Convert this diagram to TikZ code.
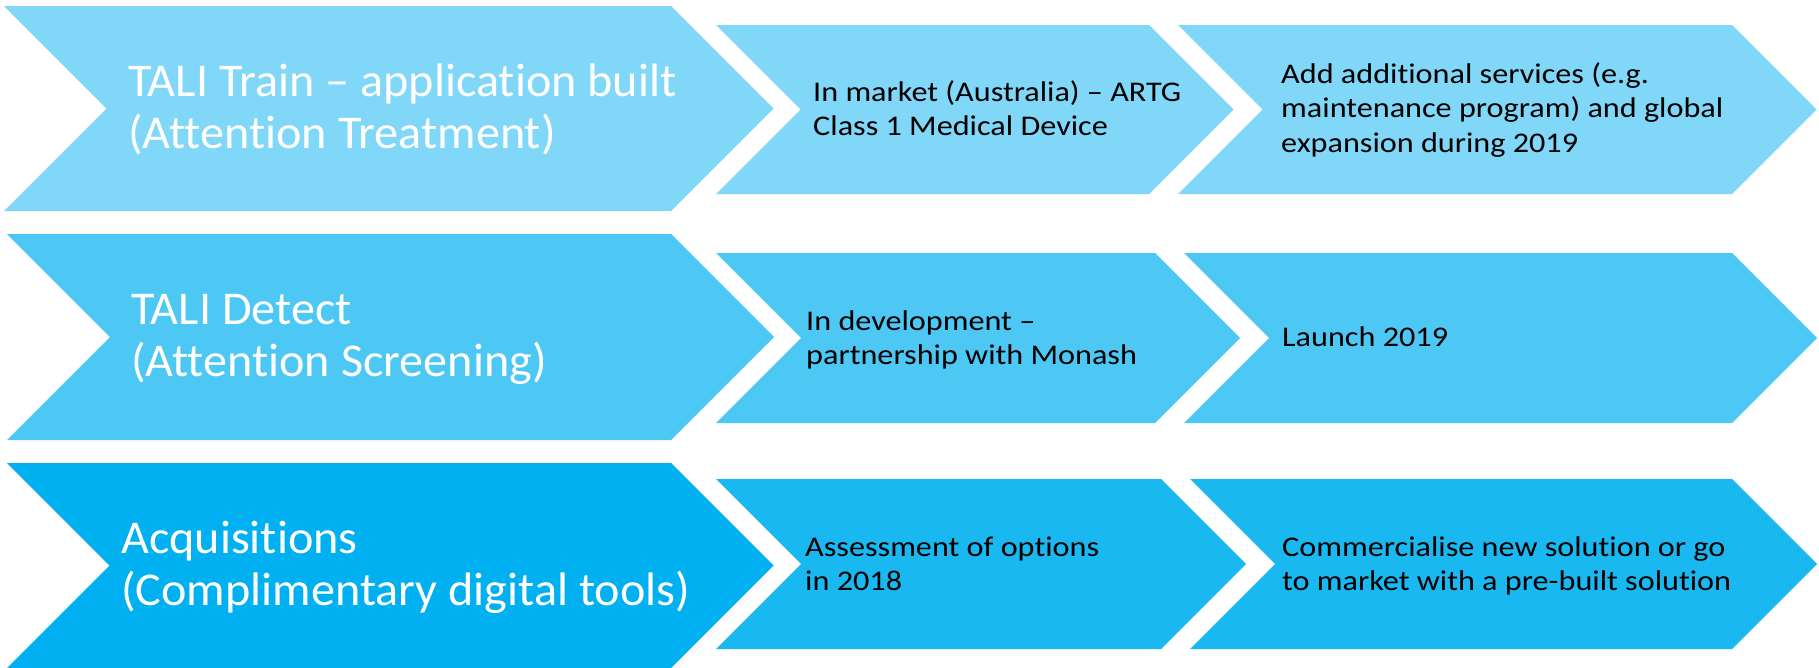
\documentclass[tikz,border=0pt]{standalone}
\usepackage{fontspec}
\setmainfont{Carlito}[Ligatures=NoCommon]
\newfontfamily\smallfam{Carlito}[Ligatures=NoCommon, FakeStretch=1.13]
\newfontfamily\bigfam{Carlito}[Ligatures=NoCommon, FakeStretch=1.025]
\definecolor{rowA}{HTML}{80D7F7}
\definecolor{rowB}{HTML}{4DC8F4}
\definecolor{rowC}{HTML}{00B0F0}
\definecolor{rowCs}{HTML}{1AB8F1}
\newcommand{\chevshape}[5]{%
  \fill[#1] (#2,#4) -- (#3,#4) -- ({#3+(#5-#4)/2},{(#4+#5)/2}) -- (#3,#5) -- (#2,#5) -- ({#2+(#5-#4)/2},{(#4+#5)/2}) -- cycle;}
\newcommand{\txtblock}[1]{\parbox[t]{720pt}{\raggedright #1}}
\tikzset{
  bigtxt/.style={anchor=base west, inner sep=0pt, text=white, font=\bigfam\fontsize{47}{52}\selectfont},
  smalltxt/.style={anchor=base west, inner sep=0pt, text=black, font=\smallfam\fontsize{28.5}{34.5}\selectfont}
}
\begin{document}
\begin{tikzpicture}[x=1pt,y=-1pt]
\useasboundingbox (0,0) rectangle (1819,667);
\clip (0,0) rectangle (1819,667);
% row 1
\chevshape{rowA}{4}{671}{6}{211}
\chevshape{rowA}{716}{1149}{25}{194}
\chevshape{rowA}{1178}{1732}{25}{194}
% row 2
\chevshape{rowB}{7}{671}{234}{440}
\chevshape{rowB}{716}{1155}{253}{423}
\chevshape{rowB}{1184}{1732}{253}{423}
% row 3
\chevshape{rowC}{7}{671}{463}{668}
\chevshape{rowCs}{716}{1161}{479}{649}
\chevshape{rowCs}{1190}{1732}{479}{649}
% texts
\node[bigtxt] (t1) at (128,96) {\txtblock{TALI Train – application built\\(Attention Treatment)}};
\node[bigtxt] (t2) at (131,324) {\txtblock{TALI Detect\\(Attention Screening)}};
\node[bigtxt] (t3) at (121,553) {\txtblock{Acquisitions\\(Complimentary digital tools)}};
\node[smalltxt] (s11) at (813,101) {\txtblock{In market (Australia) – ARTG\\Class 1 Medical Device}};
\node[smalltxt] (s12) at (1281,83) {\txtblock{Add additional services (e.g.\\maintenance program) and global\\expansion during 2019}};
\node[smalltxt] (s21) at (806,330) {\txtblock{In development –\\partnership with Monash}};
\node[smalltxt] (s22) at (1282,346) {\txtblock{Launch 2019}};
\node[smalltxt] (s31) at (805,556) {\txtblock{Assessment of options\\in 2018}};
\node[smalltxt] (s32) at (1282,556) {\txtblock{Commercialise new solution or go\\to market with a pre-built solution}};
\end{tikzpicture}
\end{document}
